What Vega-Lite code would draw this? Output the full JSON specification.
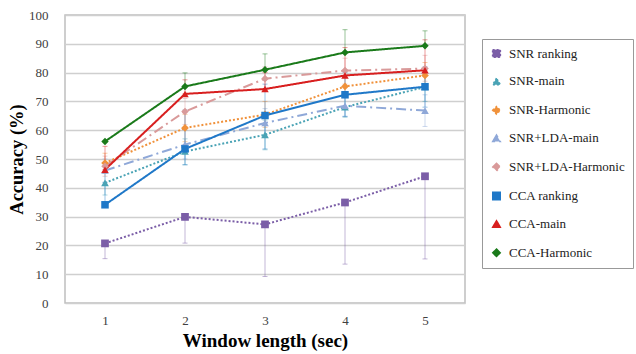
{
  "$schema": "https://vega.github.io/schema/vega-lite/v6.json",
  "autosize": "none",
  "width": 400,
  "height": 288,
  "padding": {"left": 65, "top": 15, "right": 171, "bottom": 51},
  "background": "white",
  "config": {
    "view": {"stroke": "#bfbfbf", "strokeWidth": 1.5},
    "font": "Liberation Serif",
    "axisY": {
      "title": "Accuracy (%)", "titleFont": "Liberation Serif", "titleFontSize": 18.5, "titleFontWeight": "bold",
      "titleColor": "#000", "titlePadding": 2,
      "values": [0, 10, 20, 30, 40, 50, 60, 70, 80, 90, 100],
      "labelFont": "Liberation Serif", "labelFontSize": 13, "labelColor": "#404040", "labelPadding": 17,
      "ticks": false, "domain": false, "grid": true, "gridColor": "#cfcfcf", "gridWidth": 1.5
    }
  },
  "data": {
    "values": [
      {"series": "SNR ranking", "x": 1, "y": 20.7, "lo": 15.4, "hi": 20.7},
      {"series": "SNR ranking", "x": 2, "y": 29.9, "lo": 20.8, "hi": 29.9},
      {"series": "SNR ranking", "x": 3, "y": 27.3, "lo": 9.2, "hi": 27.3},
      {"series": "SNR ranking", "x": 4, "y": 34.9, "lo": 13.5, "hi": 34.9},
      {"series": "SNR ranking", "x": 5, "y": 44.0, "lo": 15.3, "hi": 44.0},
      {"series": "SNR-main", "x": 1, "y": 41.7, "lo": 37.5, "hi": 45.5},
      {"series": "SNR-main", "x": 2, "y": 52.6, "lo": 48.0, "hi": 57.0},
      {"series": "SNR-main", "x": 3, "y": 58.4, "lo": 53.2, "hi": 63.5},
      {"series": "SNR-main", "x": 4, "y": 68.0, "lo": 64.5, "hi": 72.0},
      {"series": "SNR-main", "x": 5, "y": 75.0, "lo": 70.0, "hi": 80.0},
      {"series": "SNR-Harmonic", "x": 1, "y": 48.6, "lo": 45.0, "hi": 52.0},
      {"series": "SNR-Harmonic", "x": 2, "y": 60.8, "lo": 56.0, "hi": 65.5},
      {"series": "SNR-Harmonic", "x": 3, "y": 65.4, "lo": 61.0, "hi": 70.0},
      {"series": "SNR-Harmonic", "x": 4, "y": 75.2, "lo": 71.5, "hi": 79.0},
      {"series": "SNR-Harmonic", "x": 5, "y": 79.0, "lo": 74.5, "hi": 83.5},
      {"series": "SNR+LDA-main", "x": 1, "y": 46.0, "lo": 42.0, "hi": 50.0},
      {"series": "SNR+LDA-main", "x": 2, "y": 55.0, "lo": 50.0, "hi": 60.0},
      {"series": "SNR+LDA-main", "x": 3, "y": 62.5, "lo": 57.5, "hi": 67.5},
      {"series": "SNR+LDA-main", "x": 4, "y": 68.5, "lo": 64.8, "hi": 72.2},
      {"series": "SNR+LDA-main", "x": 5, "y": 66.8, "lo": 61.3, "hi": 72.3},
      {"series": "SNR+LDA-Harmonic", "x": 1, "y": 47.5, "lo": 44.0, "hi": 51.0},
      {"series": "SNR+LDA-Harmonic", "x": 2, "y": 66.5, "lo": 62.0, "hi": 71.0},
      {"series": "SNR+LDA-Harmonic", "x": 3, "y": 77.9, "lo": 74.0, "hi": 82.0},
      {"series": "SNR+LDA-Harmonic", "x": 4, "y": 80.7, "lo": 76.0, "hi": 85.0},
      {"series": "SNR+LDA-Harmonic", "x": 5, "y": 81.4, "lo": 77.0, "hi": 86.0},
      {"series": "CCA ranking", "x": 1, "y": 34.1, "lo": 34.1, "hi": 41.8},
      {"series": "CCA ranking", "x": 2, "y": 53.5, "lo": 48.0, "hi": 67.0},
      {"series": "CCA ranking", "x": 3, "y": 65.1, "lo": 53.5, "hi": 76.0},
      {"series": "CCA ranking", "x": 4, "y": 72.3, "lo": 64.8, "hi": 80.0},
      {"series": "CCA ranking", "x": 5, "y": 75.1, "lo": 68.0, "hi": 82.0},
      {"series": "CCA-main", "x": 1, "y": 46.3, "lo": 46.3, "hi": 54.4},
      {"series": "CCA-main", "x": 2, "y": 72.6, "lo": 72.6, "hi": 77.5},
      {"series": "CCA-main", "x": 3, "y": 74.3, "lo": 74.3, "hi": 80.0},
      {"series": "CCA-main", "x": 4, "y": 79.0, "lo": 79.0, "hi": 88.7},
      {"series": "CCA-main", "x": 5, "y": 80.8, "lo": 80.8, "hi": 91.4},
      {"series": "CCA-Harmonic", "x": 1, "y": 56.1, "lo": 56.1, "hi": 56.1},
      {"series": "CCA-Harmonic", "x": 2, "y": 75.2, "lo": 75.2, "hi": 79.9},
      {"series": "CCA-Harmonic", "x": 3, "y": 81.0, "lo": 81.0, "hi": 86.5},
      {"series": "CCA-Harmonic", "x": 4, "y": 87.0, "lo": 87.0, "hi": 94.9},
      {"series": "CCA-Harmonic", "x": 5, "y": 89.3, "lo": 89.3, "hi": 94.5}
    ]
  },
  "encoding": {
    "x": {
      "field": "x", "type": "ordinal",
      "scale": {"type": "point", "padding": 0.5},
      "axis": {
        "title": "Window length (sec)", "titleFont": "Liberation Serif", "titleFontSize": 19, "titleFontWeight": "bold",
        "titleColor": "#000", "titlePadding": 4,
        "labelAngle": 0, "labelFont": "Liberation Serif", "labelFontSize": 13, "labelColor": "#404040",
        "labelPadding": 11, "ticks": false, "domain": false, "grid": false
      }
    },
    "color": {
      "field": "series", "type": "nominal",
      "scale": {
        "domain": ["SNR ranking", "SNR-main", "SNR-Harmonic", "SNR+LDA-main", "SNR+LDA-Harmonic", "CCA ranking", "CCA-main", "CCA-Harmonic"],
        "range": ["#7b5ea7", "#4aa3b5", "#f0913a", "#8fa8d8", "#d99a9a", "#1f78c8", "#d81f1f", "#1a7a1a"]
      },
      "legend": {
        "title": null, "orient": "none", "legendX": 417, "legendY": 24,
        "strokeColor": "#999", "padding": 8, "rowPadding": 13.9,
        "labelFont": "Liberation Serif", "labelFontSize": 13, "labelColor": "#222",
        "symbolSize": 45, "symbolStrokeWidth": 0, "symbolOpacity": 1, "labelOffset": 6, "labelLimit": 200
      }
    }
  },
  "layer": [
    {
      "mark": {"type": "errorbar", "ticks": {"size": 5}, "opacity": 0.45},
      "encoding": {
        "y": {"field": "lo", "type": "quantitative", "scale": {"domain": [0, 100]}, "title": "Accuracy (%)"},
        "y2": {"field": "hi"}
      }
    },
    {
      "mark": {"type": "line", "strokeWidth": 2},
      "encoding": {
        "y": {"field": "y", "type": "quantitative", "scale": {"domain": [0, 100]}, "title": "Accuracy (%)"},
        "strokeDash": {
          "field": "series", "type": "nominal",
          "scale": {
            "domain": ["SNR ranking", "SNR-main", "SNR-Harmonic", "SNR+LDA-main", "SNR+LDA-Harmonic", "CCA ranking", "CCA-main", "CCA-Harmonic"],
            "range": [[2, 2], [2, 2], [2, 2], [10, 4, 2, 4], [10, 4, 2, 4], [1, 0], [1, 0], [1, 0]]
          },
          "legend": null
        },
        "strokeWidth": {
          "field": "series", "type": "nominal",
          "scale": {
            "domain": ["SNR ranking", "SNR-main", "SNR-Harmonic", "SNR+LDA-main", "SNR+LDA-Harmonic", "CCA ranking", "CCA-main", "CCA-Harmonic"],
            "range": [1.5, 1.5, 1.5, 2, 2, 2, 2, 2]
          },
          "legend": null
        }
      }
    },
    {
      "mark": {"type": "point", "filled": true, "opacity": 1},
      "encoding": {
        "y": {"field": "y", "type": "quantitative", "title": "Accuracy (%)"},
        "shape": {
          "field": "series", "type": "nominal",
          "scale": {
            "domain": ["SNR ranking", "SNR-main", "SNR-Harmonic", "SNR+LDA-main", "SNR+LDA-Harmonic", "CCA ranking", "CCA-main", "CCA-Harmonic"],
            "range": ["square", "triangle-up", "diamond", "triangle-up", "diamond", "square", "triangle-up", "diamond"]
          }
        },
        "size": {
          "field": "series", "type": "nominal",
          "scale": {
            "domain": ["SNR ranking", "SNR-main", "SNR-Harmonic", "SNR+LDA-main", "SNR+LDA-Harmonic", "CCA ranking", "CCA-main", "CCA-Harmonic"],
            "range": [60, 55, 45, 45, 40, 70, 60, 50]
          },
          "legend": null
        }
      }
    }
  ]
}
